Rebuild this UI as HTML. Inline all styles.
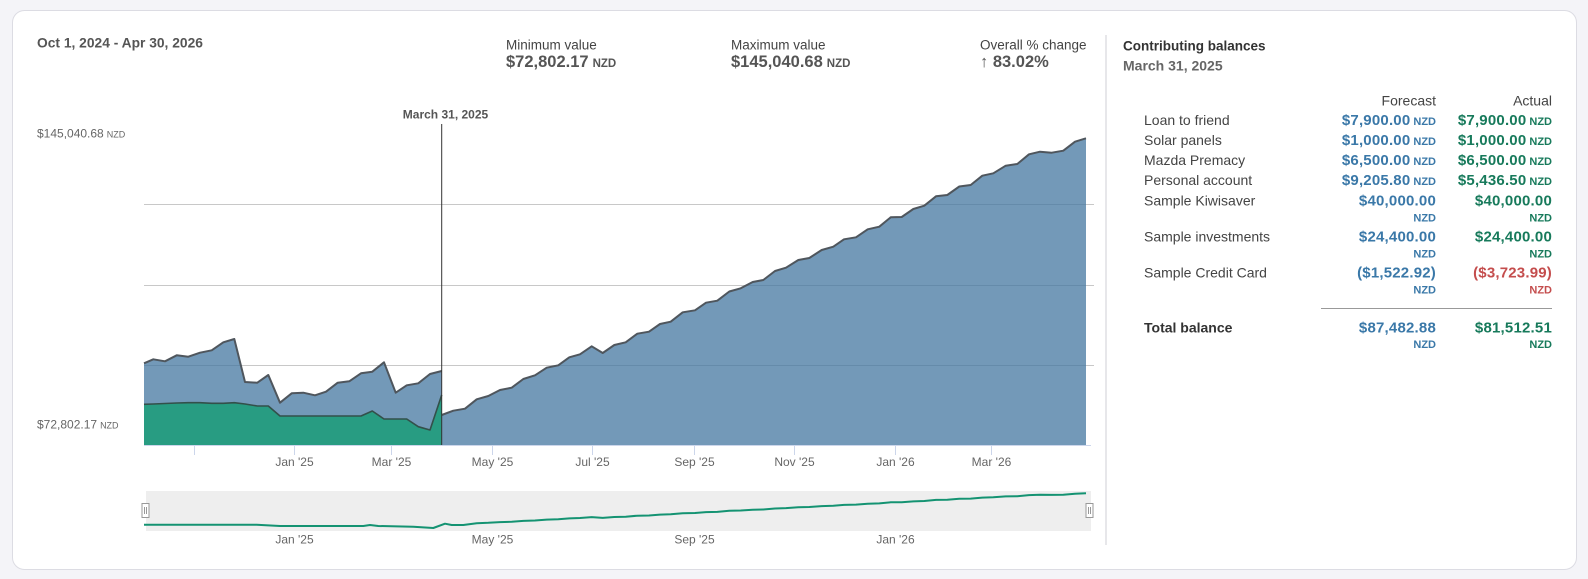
<!DOCTYPE html>
<html>
<head>
<meta charset="utf-8">
<style>
  html,body{margin:0;padding:0;background:#f4f4f8;}
  body{width:1588px;height:579px;overflow:hidden;}
  svg{display:block;font-family:"Liberation Sans", Arial, sans-serif;}
</style>
</head>
<body>
<svg width="1588" height="579" viewBox="0 0 1588 579" xmlns="http://www.w3.org/2000/svg">
  <rect x="0" y="0" width="1588" height="579" fill="#f4f4f8"/>
  <rect x="12.5" y="10.5" width="1564" height="559" rx="12" ry="12" fill="#ffffff" stroke="#dcdce3" stroke-width="1"/>

  <!-- Header left -->
  <text x="37" y="47.3" font-size="13.8" font-weight="bold" fill="#555">Oct 1, 2024 - Apr 30, 2026</text>

  <!-- Stats -->
  <text x="506" y="49.5" font-size="13.5" fill="#444">Minimum value</text>
  <text x="506" y="67" font-size="16.5" font-weight="bold" fill="#555">$72,802.17<tspan font-size="11.5" dx="4">NZD</tspan></text>

  <text x="731" y="49.5" font-size="13.5" fill="#444">Maximum value</text>
  <text x="731" y="67" font-size="16.5" font-weight="bold" fill="#555">$145,040.68<tspan font-size="11.5" dx="4">NZD</tspan></text>

  <text x="980" y="49.5" font-size="13.5" fill="#444">Overall % change</text>
  <text x="980" y="67" font-size="16.5" font-weight="bold" fill="#555">↑ 83.02%</text>

  <!-- Y labels -->
  <text x="37" y="137.5" font-size="12" fill="#666">$145,040.68<tspan font-size="9" dx="3">NZD</tspan></text>
  <text x="37" y="428.5" font-size="12" fill="#666">$72,802.17<tspan font-size="9" dx="3">NZD</tspan></text>

  <!-- Gridlines -->
  <g stroke="#c8c8c8" stroke-width="1">
    <line x1="144" y1="204.5" x2="1094" y2="204.5"/>
    <line x1="144" y1="285.5" x2="1094" y2="285.5"/>
    <line x1="144" y1="365.5" x2="1094" y2="365.5"/>
  </g>

  <!-- Blue area -->
  <path fill="rgb(68,119,160)" fill-opacity="0.75" d="M144,445 L144,363.3 153.3,359.3 165,361.3 176.7,355.3 188.3,356.7 200,352.7 211.7,350.3 223.3,342.3 234.3,339 245,382 257.3,382.7 268.3,375 280,402.7 291.7,393.3 303.3,392.7 315,395.3 326,391.7 337.7,382.7 349.3,381.3 361,373.3 372.3,371.7 384,362.3 395.7,392.7 406.7,385.3 418.3,383.3 430,374 441.7,371 441.7,415 453.3,410.7 465,408.7 476.7,399.3 488.3,396 500,390 511.7,387.7 523.3,379 535,375.3 546.7,367.7 558.3,365.3 569.3,357.3 580,354.3 591.7,346.3 602.7,353 614.3,345 625.7,342.3 637.3,333.7 649,331.7 660,324 670.7,321.7 682.7,312.3 695,310.3 706,302.7 717.3,300.7 729.3,291.5 740.7,288.3 752.7,282 763.3,280 775,271 786,267.7 798.3,260 809.3,258 821.7,250 833.3,246.7 844,239.3 856,237.3 867.7,229.3 879.3,226.7 890.7,217.3 901.7,217 913.3,209 924.3,205.7 936,196.3 947.3,195 959.3,186.5 970.7,185 982.3,175.7 993.3,173.3 1005.7,165.7 1017.3,164 1029,154.3 1040,151.7 1051.7,152.7 1063.3,150.7 1075,141.7 1086,138.3 L1086,445 Z"/>

  <!-- Green area -->
  <path fill="rgb(19,156,115)" fill-opacity="0.78" d="M144,445 L144,404.3 153.3,404 165,403.5 176.7,403 188.3,402.7 200,402.7 211.7,403.3 223.3,403.3 234.3,402.7 245,404 257.3,406 268.3,406 280,416 291.7,416 303.3,416 315,416 326,416 337.7,416 349.3,416 361,416 372.3,411 384,419 395.7,419 406.7,419 418.3,426.7 430,430 441.7,395 L441.7,445 Z"/>

  <!-- Green line -->
  <polyline fill="none" stroke="#33504a" stroke-width="1.6" stroke-linejoin="round" points="144,404.3 153.3,404 165,403.5 176.7,403 188.3,402.7 200,402.7 211.7,403.3 223.3,403.3 234.3,402.7 245,404 257.3,406 268.3,406 280,416 291.7,416 303.3,416 315,416 326,416 337.7,416 349.3,416 361,416 372.3,411 384,419 395.7,419 406.7,419 418.3,426.7 430,430 441.7,395"/>

  <!-- Blue line -->
  <polyline fill="none" stroke="#4f565d" stroke-width="2" stroke-linejoin="round" points="144,363.3 153.3,359.3 165,361.3 176.7,355.3 188.3,356.7 200,352.7 211.7,350.3 223.3,342.3 234.3,339 245,382 257.3,382.7 268.3,375 280,402.7 291.7,393.3 303.3,392.7 315,395.3 326,391.7 337.7,382.7 349.3,381.3 361,373.3 372.3,371.7 384,362.3 395.7,392.7 406.7,385.3 418.3,383.3 430,374 441.7,371"/>
  <polyline fill="none" stroke="#4f565d" stroke-width="2" stroke-linejoin="round" points="441.7,415 453.3,410.7 465,408.7 476.7,399.3 488.3,396 500,390 511.7,387.7 523.3,379 535,375.3 546.7,367.7 558.3,365.3 569.3,357.3 580,354.3 591.7,346.3 602.7,353 614.3,345 625.7,342.3 637.3,333.7 649,331.7 660,324 670.7,321.7 682.7,312.3 695,310.3 706,302.7 717.3,300.7 729.3,291.5 740.7,288.3 752.7,282 763.3,280 775,271 786,267.7 798.3,260 809.3,258 821.7,250 833.3,246.7 844,239.3 856,237.3 867.7,229.3 879.3,226.7 890.7,217.3 901.7,217 913.3,209 924.3,205.7 936,196.3 947.3,195 959.3,186.5 970.7,185 982.3,175.7 993.3,173.3 1005.7,165.7 1017.3,164 1029,154.3 1040,151.7 1051.7,152.7 1063.3,150.7 1075,141.7 1086,138.3"/>

  <!-- X axis line and ticks -->
  <line x1="144" y1="445.5" x2="1091" y2="445.5" stroke="#ccd6eb" stroke-width="1"/>
  <g stroke="#ccd6eb" stroke-width="1">
    <line x1="194.5" y1="445" x2="194.5" y2="455"/>
    <line x1="294.5" y1="445" x2="294.5" y2="455"/>
    <line x1="391.5" y1="445" x2="391.5" y2="455"/>
    <line x1="492.5" y1="445" x2="492.5" y2="455"/>
    <line x1="592.5" y1="445" x2="592.5" y2="455"/>
    <line x1="694.5" y1="445" x2="694.5" y2="455"/>
    <line x1="794.5" y1="445" x2="794.5" y2="455"/>
    <line x1="895.5" y1="445" x2="895.5" y2="455"/>
    <line x1="991.5" y1="445" x2="991.5" y2="455"/>
  </g>
  <g font-size="12" fill="#666" text-anchor="middle">
    <text x="294.5" y="466">Jan '25</text>
    <text x="391.5" y="466">Mar '25</text>
    <text x="492.5" y="466">May '25</text>
    <text x="592.5" y="466">Jul '25</text>
    <text x="694.5" y="466">Sep '25</text>
    <text x="794.5" y="466">Nov '25</text>
    <text x="895.5" y="466">Jan '26</text>
    <text x="991.5" y="466">Mar '26</text>
  </g>

  <!-- Crosshair -->
  <line x1="441.7" y1="124" x2="441.7" y2="445" stroke="#333" stroke-width="1"/>
  <text x="445.5" y="118.5" font-size="12" font-weight="bold" fill="#555" text-anchor="middle">March 31, 2025</text>

  <!-- Navigator -->
  <rect x="146" y="491" width="945" height="40" fill="#eeeeee"/>
  <polyline fill="none" stroke="#149372" stroke-width="2" stroke-linejoin="round" points="144,524.7 256.7,524.7 280,526 363.3,526 370,525 378.3,526 413.3,526.7 433.3,528 445,523.7 451.7,525 463.3,525 476.7,523.2 488.3,522.8 500,522.1 511.7,521.8 523.3,520.9 535,520.5 546.7,519.6 558.3,519.3 569.3,518.4 580,518 591.7,517.1 602.7,517.9 614.3,517 625.7,516.7 637.3,515.7 649,515.5 660,514.6 670.7,514.3 682.7,513.2 695,513 706,512.1 717.3,511.9 729.3,510.8 740.7,510.5 752.7,509.8 763.3,509.5 775,508.5 786,508.1 798.3,507.2 809.3,507 821.7,506.1 833.3,505.7 844,504.9 856,504.6 867.7,503.7 879.3,503.4 890.7,502.3 901.7,502.3 913.3,501.4 924.3,501 936,499.9 947.3,499.8 959.3,498.8 970.7,498.6 982.3,497.6 993.3,497.3 1005.7,496.4 1017.3,496.2 1029,495.1 1040,494.8 1051.7,494.9 1063.3,494.7 1075,493.7 1086,493.3"/>
  <!-- handles -->
  <g stroke="#999" stroke-width="1" fill="#fff">
    <rect x="142" y="503.5" width="7" height="14"/>
    <rect x="1086" y="503.5" width="7" height="14"/>
  </g>
  <g stroke="#999" stroke-width="1">
    <line x1="144.5" y1="507" x2="144.5" y2="514"/>
    <line x1="146.5" y1="507" x2="146.5" y2="514"/>
    <line x1="1088.5" y1="507" x2="1088.5" y2="514"/>
    <line x1="1090.5" y1="507" x2="1090.5" y2="514"/>
  </g>
  <g font-size="12" fill="#666" text-anchor="middle">
    <text x="294.5" y="543.5">Jan '25</text>
    <text x="492.5" y="543.5">May '25</text>
    <text x="694.5" y="543.5">Sep '25</text>
    <text x="895.5" y="543.5">Jan '26</text>
  </g>

  <!-- Divider -->
  <line x1="1106" y1="35" x2="1106" y2="545" stroke="#cfcfd4" stroke-width="1"/>

  <!-- Right panel -->
  <text x="1123" y="50.5" font-size="13.5" font-weight="bold" fill="#333">Contributing balances</text>
  <text x="1123" y="70.3" font-size="14" font-weight="bold" fill="#666">March 31, 2025</text>

  <text x="1436" y="105.7" font-size="14" fill="#444" text-anchor="end">Forecast</text>
  <text x="1552" y="105.7" font-size="14" fill="#444" text-anchor="end">Actual</text>

  <g font-size="14" fill="#444">
    <text x="1144" y="125">Loan to friend</text>
    <text x="1144" y="145">Solar panels</text>
    <text x="1144" y="165">Mazda Premacy</text>
    <text x="1144" y="185">Personal account</text>
    <text x="1144" y="205.7">Sample Kiwisaver</text>
    <text x="1144" y="241.7">Sample investments</text>
    <text x="1144" y="277.7">Sample Credit Card</text>
  </g>

  <g font-weight="bold" text-anchor="end">
    <g fill="#3a78a8">
      <text x="1436" y="125" font-size="15" letter-spacing="0.2">$7,900.00<tspan font-size="11" dx="3" letter-spacing="0">NZD</tspan></text>
      <text x="1436" y="145" font-size="15" letter-spacing="0.2">$1,000.00<tspan font-size="11" dx="3" letter-spacing="0">NZD</tspan></text>
      <text x="1436" y="165" font-size="15" letter-spacing="0.2">$6,500.00<tspan font-size="11" dx="3" letter-spacing="0">NZD</tspan></text>
      <text x="1436" y="185" font-size="15" letter-spacing="0.2">$9,205.80<tspan font-size="11" dx="3" letter-spacing="0">NZD</tspan></text>
      <text x="1436" y="205.7" font-size="15" letter-spacing="0.2">$40,000.00</text>
      <text x="1436" y="221.5" font-size="11">NZD</text>
      <text x="1436" y="241.7" font-size="15" letter-spacing="0.2">$24,400.00</text>
      <text x="1436" y="257.5" font-size="11">NZD</text>
      <text x="1436" y="277.7" font-size="15" letter-spacing="0.2">($1,522.92)</text>
      <text x="1436" y="293.5" font-size="11">NZD</text>
      <text x="1436" y="332.3" font-size="15" letter-spacing="0.2">$87,482.88</text>
      <text x="1436" y="348.2" font-size="11">NZD</text>
    </g>
    <g fill="#177a5b">
      <text x="1552" y="125" font-size="15" letter-spacing="0.2">$7,900.00<tspan font-size="11" dx="3" letter-spacing="0">NZD</tspan></text>
      <text x="1552" y="145" font-size="15" letter-spacing="0.2">$1,000.00<tspan font-size="11" dx="3" letter-spacing="0">NZD</tspan></text>
      <text x="1552" y="165" font-size="15" letter-spacing="0.2">$6,500.00<tspan font-size="11" dx="3" letter-spacing="0">NZD</tspan></text>
      <text x="1552" y="185" font-size="15" letter-spacing="0.2">$5,436.50<tspan font-size="11" dx="3" letter-spacing="0">NZD</tspan></text>
      <text x="1552" y="205.7" font-size="15" letter-spacing="0.2">$40,000.00</text>
      <text x="1552" y="221.5" font-size="11">NZD</text>
      <text x="1552" y="241.7" font-size="15" letter-spacing="0.2">$24,400.00</text>
      <text x="1552" y="257.5" font-size="11">NZD</text>
      <text x="1552" y="332.3" font-size="15" letter-spacing="0.2">$81,512.51</text>
      <text x="1552" y="348.2" font-size="11">NZD</text>
    </g>
    <g fill="#c44d4d">
      <text x="1552" y="277.7" font-size="15" letter-spacing="0.2">($3,723.99)</text>
      <text x="1552" y="293.5" font-size="11">NZD</text>
    </g>
  </g>

  <line x1="1321" y1="308.5" x2="1552" y2="308.5" stroke="#999" stroke-width="1"/>
  <text x="1144" y="332.3" font-size="14" font-weight="bold" fill="#333">Total balance</text>
</svg>
</body>
</html>
